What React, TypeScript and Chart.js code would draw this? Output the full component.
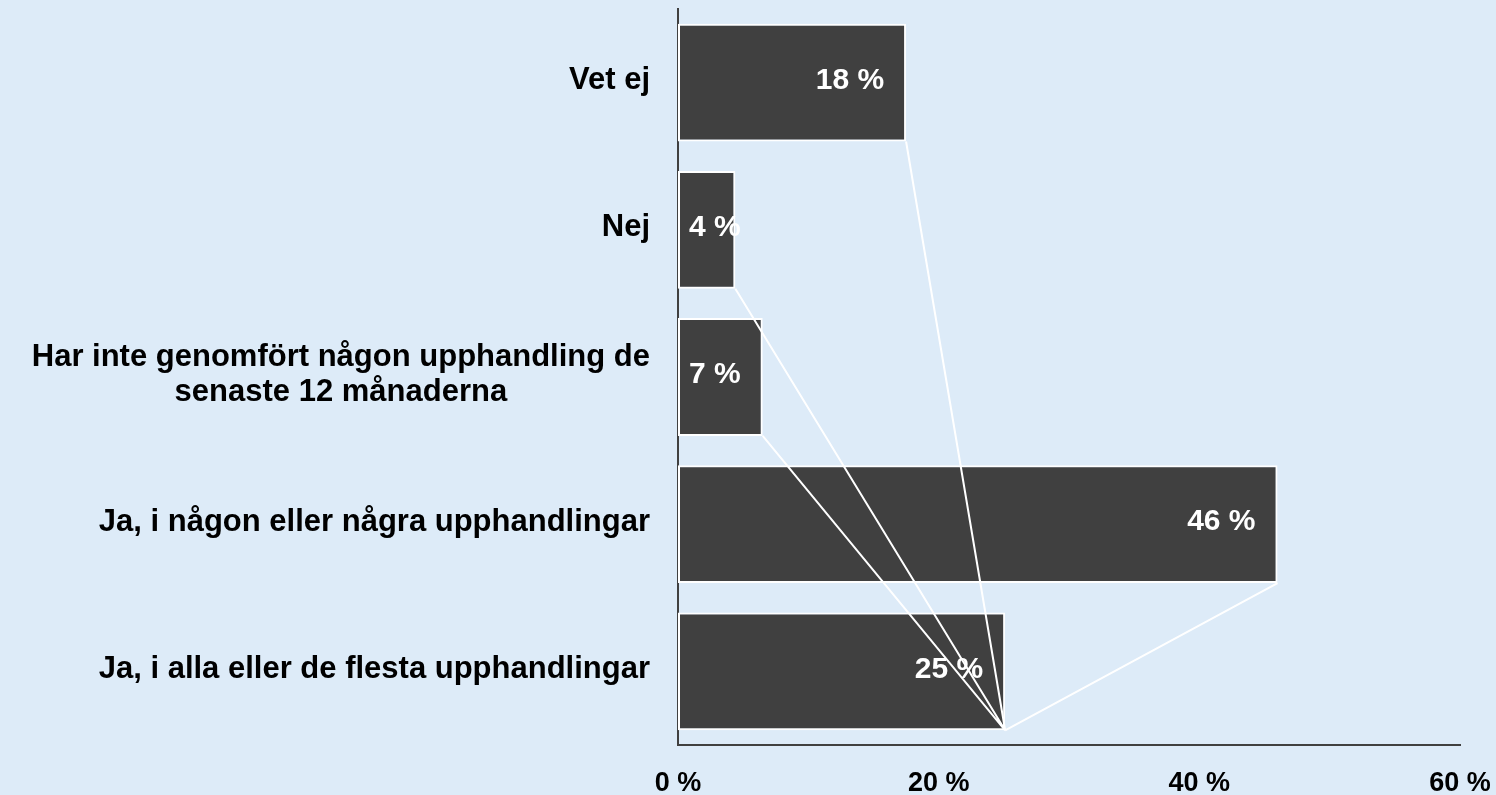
import React, { useEffect, useRef } from 'react';
import { Chart, registerables } from 'chart.js';

Chart.register(...registerables);

const categories: string[][] = [
  ['Vet ej'],
  ['Nej'],
  ['Har inte genomfört någon upphandling de', 'senaste 12 månaderna'],
  ['Ja, i någon eller några upphandlingar'],
  ['Ja, i alla eller de flesta upphandlingar'],
];
const values: number[] = [17.5, 4.4, 6.5, 46.0, 25.1];
const xTickValues: number[] = [0, 20, 40, 60];

const FONT = '"Liberation Sans", Arial, Helvetica, sans-serif';
const BG = '#DDEBF8';
const BAR = '#404040';
const AXIS = '#404040';

const textPlugin = {
  id: 'customText',
  afterDatasetsDraw(chart: any) {
    const ctx = chart.ctx as CanvasRenderingContext2D;
    const meta = chart.getDatasetMeta(0);
    const els = meta.data.map((e: any) => e.getProps(['x', 'y', 'base', 'height'], true));
    ctx.save();
    // series lines: bottom-right of each bar to bottom-right of last bar
    const last = els[els.length - 1];
    const tx = last.x;
    const ty = last.y + last.height / 2;
    ctx.strokeStyle = '#FFFFFF';
    ctx.lineWidth = 2;
    ctx.beginPath();
    for (let i = 0; i < els.length - 1; i++) {
      const el = els[i];
      ctx.moveTo(el.x, el.y + el.height / 2);
      ctx.lineTo(tx, ty);
    }
    ctx.stroke();

    // value labels
    ctx.font = `bold 30px ${FONT}`;
    ctx.fillStyle = '#FFFFFF';
    ctx.textBaseline = 'middle';
    const pad = 22;
    els.forEach((el: any, i: number) => {
      const txt = `${Math.round(values[i])} %`;
      const w = ctx.measureText(txt).width;
      let left = el.x - pad - w;
      if (left < el.base + 11) left = el.base + 11;
      ctx.textAlign = 'left';
      ctx.fillText(txt, left, el.y - 2);
    });

    // category labels
    const ys = chart.scales.y;
    ctx.font = `bold 31px ${FONT}`;
    ctx.fillStyle = '#000000';
    ctx.textAlign = 'center';
    ctx.textBaseline = 'middle';
    const lh = 35;
    categories.forEach((lines, i) => {
      const y = ys.getPixelForValue(i);
      const W = Math.max(...lines.map((l) => ctx.measureText(l).width));
      const cx = chart.chartArea.left - 28 - W / 2;
      const y0 = y - ((lines.length - 1) * lh) / 2 - 2;
      lines.forEach((l, j) => ctx.fillText(l, cx, y0 + j * lh));
    });
    ctx.restore();
  },
};

export default function App() {
  const ref = useRef<HTMLCanvasElement | null>(null);
  useEffect(() => {
    if (!ref.current) return;
    const chart = new Chart(ref.current, {
      type: 'bar',
      data: {
        labels: categories.map((c) => c.join(' ')),
        datasets: [
          {
            data: values,
            backgroundColor: BAR,
            borderColor: '#FFFFFF',
            borderWidth: 2,
            borderSkipped: false,
            categoryPercentage: 0.8,
            barPercentage: 1,
          },
        ],
      },
      options: {
        indexAxis: 'y',
        responsive: false,
        animation: false,
        events: [],
        layout: { padding: { left: 678, right: 36, top: 9, bottom: 0 } },
        plugins: { legend: { display: false }, tooltip: { enabled: false } },
        scales: {
          x: {
            type: 'linear',
            min: 0,
            max: 60,
            afterBuildTicks: (scale: any) => {
              scale.ticks = xTickValues.map((v) => ({ value: v }));
            },
            afterFit: (scale: any) => {
              scale.height = 50;
              scale.paddingLeft = 0;
              scale.paddingRight = 0;
            },
            grid: { display: false, drawTicks: false },
            border: { display: true, color: AXIS, width: 2 },
            ticks: {
              color: '#000000',
              font: { family: FONT, size: 27, weight: 'bold' },
              padding: 22,
              maxRotation: 0,
              callback: (v: any) => `${v} %`,
            },
          },
          y: {
            type: 'category',
            afterFit: (scale: any) => {
              scale.width = 0;
            },
            grid: { display: false, drawTicks: false },
            border: { display: true, color: AXIS, width: 2 },
            ticks: { display: false },
          },
        },
      },
      plugins: [textPlugin],
    });
    return () => chart.destroy();
  }, []);

  return (
    <div
      style={{
        position: 'absolute',
        left: 0,
        top: 0,
        width: 1496,
        height: 795,
        background: BG,
        overflow: 'hidden',
      }}
    >
      <canvas ref={ref} width={1496} height={795} style={{ display: 'block' }} />
    </div>
  );
}
